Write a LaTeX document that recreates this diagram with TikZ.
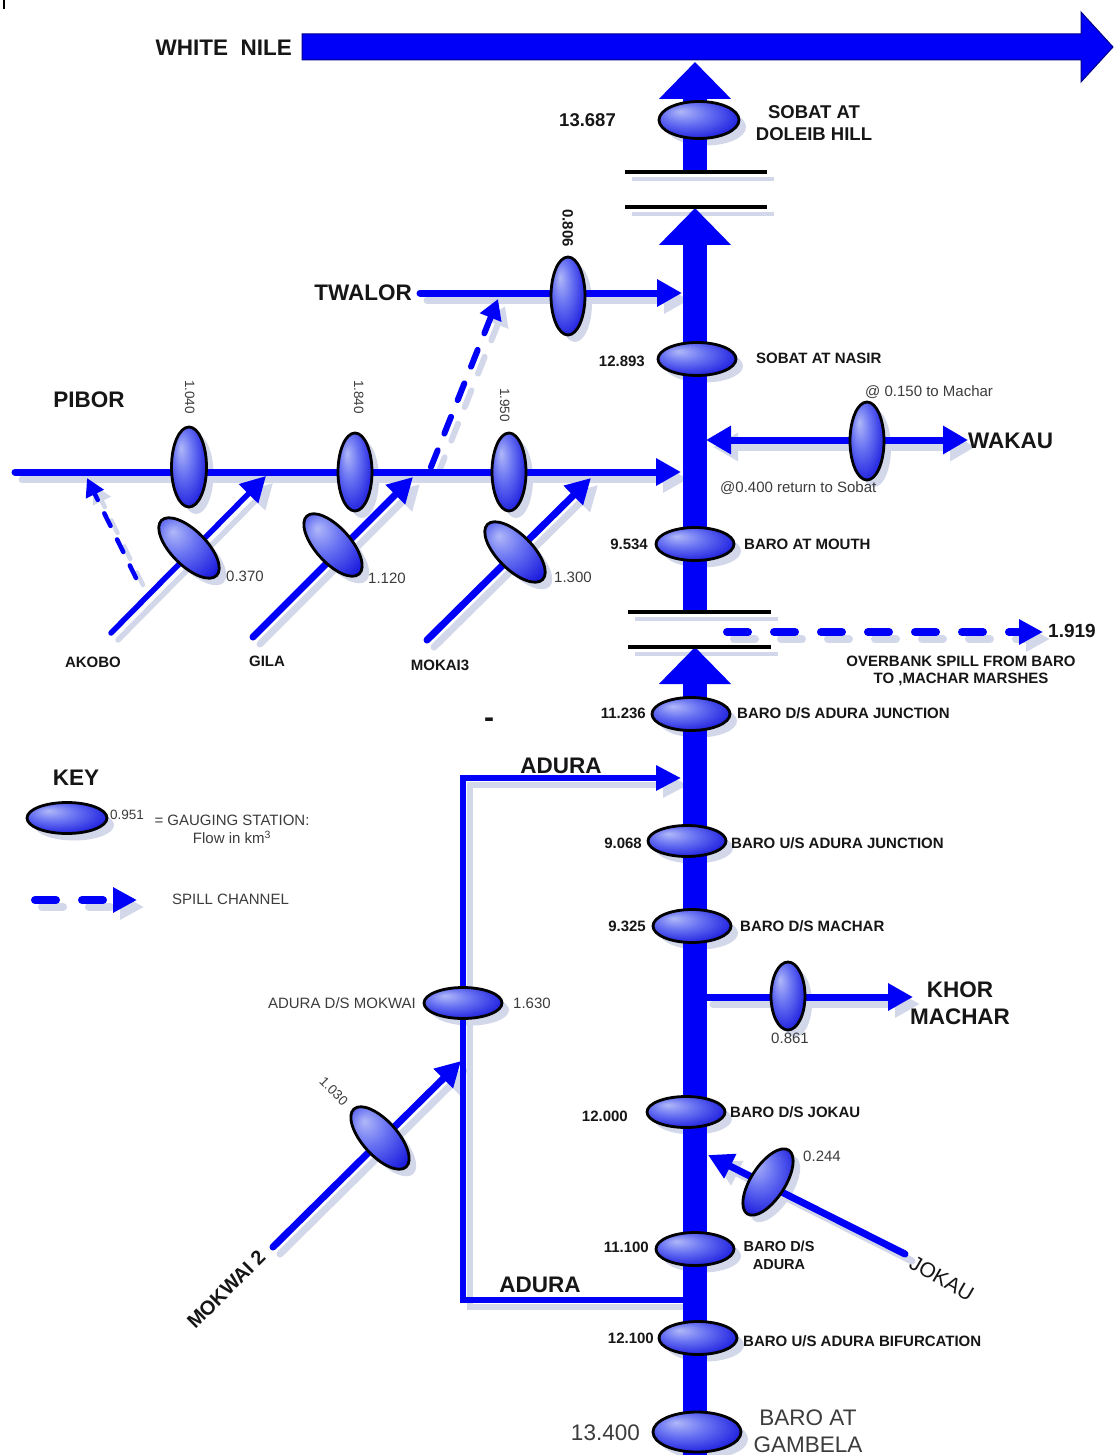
\documentclass[tikz,border=0pt]{standalone}
\usepackage{fontspec}
\setmainfont{Liberation Sans}
\usetikzlibrary{arrows.meta,shapes.geometric,calc}
\definecolor{rb}{RGB}{0,0,248}
\definecolor{shc}{RGB}{210,216,234}
\definecolor{gl}{RGB}{176,184,248}
\definecolor{gm}{RGB}{104,114,242}
\definecolor{gd}{RGB}{28,28,222}
\definecolor{tx}{RGB}{22,22,22}
\definecolor{tg}{RGB}{60,60,60}
\pgfdeclarelayer{bg}
\pgfsetlayers{bg,main}
\pgfdeclareradialshading{gaugeshade}{\pgfpoint{-12bp}{12bp}}{color(0bp)=(gl); color(14bp)=(gm); color(32bp)=(gd); color(50bp)=(gd)}
\newcommand\shline[2]{%
  \begin{pgfonlayer}{bg}\draw[#1,draw=shc,transform canvas={shift={(7pt,-7pt)}}] #2;\end{pgfonlayer}%
  \draw[#1] #2;}
\newcommand\gaugenode[3][]{%
  \begin{pgfonlayer}{bg}\node[gshape,#1,fill=shc] at ($#3+(7,7)$) {};\end{pgfonlayer}%
  \node[gshape,#1,draw=black,shade,shading=gaugeshade] (#2) at #3 {};}
\begin{document}
\begin{tikzpicture}[x=1pt,y=-1pt,
  gshape/.style={ellipse,inner sep=0pt,minimum width=78pt,minimum height=33pt,line width=2.8pt},
  vg/.style={minimum width=34pt,minimum height=78pt},
  riv/.style={draw=rb,line width=7pt,line cap=round,-{Triangle[length=25pt,width=26pt]}},
  rivt/.style={riv,line width=5.5pt},
  rivd/.style={draw=rb,line width=7pt,{Triangle[length=25pt,width=27pt]}-{Triangle[length=25pt,width=27pt]}},
  rivadura/.style={draw=rb,line width=6pt,line join=miter,-{Triangle[length=25pt,width=24pt]}},
  trunk/.style={draw=rb,line width=24pt,-{Triangle[length=37pt,width=70pt]}},
  spill/.style={draw=rb,line width=8pt,line cap=round,dash pattern=on 21pt off 26pt,-{Triangle[length=24pt,width=24pt]}},
  spillb/.style={draw=rb,line width=6pt,line cap=round,dash pattern=on 18pt off 18pt,-{Triangle[length=20pt,width=22pt]}},
  spilla/.style={draw=rb,line width=4.5pt,line cap=round,dash pattern=on 14pt off 15pt,-{Triangle[length=18pt,width=19pt]}},
  blackbar/.style={draw=black,line width=3.5pt},
  lblb/.style={font=\fontsize{15}{17}\selectfont\bfseries,text=tx,inner sep=0pt,text height=10.8pt,text depth=0pt},
  lbls/.style={font=\fontsize{15}{17}\selectfont,text=tg,inner sep=0pt,text height=10.8pt,text depth=0pt},
  lblt/.style={font=\fontsize{13.5}{16}\selectfont,text=tg,inner sep=0pt,text height=9.7pt,text depth=0pt},
  lblbig/.style={font=\fontsize{22.5}{27}\selectfont\bfseries,text=tx,inner sep=0pt,text height=16.2pt,text depth=0pt},
  multi/.style={text height={},text depth={},align=center,anchor=north},
]
\useasboundingbox (0,0) rectangle (1113,1455);
\begin{pgfonlayer}{bg}\fill[white] (0,0) rectangle (1113,1455);\end{pgfonlayer}
\draw[black,line width=1.3pt] (4,0) -- (4,9);

% ---------- coordinates ----------
\coordinate (tB) at (695,1455);
\coordinate (tA1) at (695,647);
\coordinate (tS2) at (695,612);
\coordinate (tA2) at (695,208);
\coordinate (tS3) at (695,172);
\coordinate (tA3) at (695,62);
\coordinate (pS) at (15,472);   \coordinate (pT) at (681,472);
\coordinate (twS) at (420,293); \coordinate (twT) at (682,293);
\coordinate (ptS) at (431,467); \coordinate (ptT) at (498,299);
\coordinate (akdS) at (136,578); \coordinate (akdT) at (87,478);
\coordinate (akS) at (111,633); \coordinate (akT) at (266,476);
\coordinate (giS) at (253,637); \coordinate (giT) at (413,477);
\coordinate (moS) at (427,640); \coordinate (moT) at (591,478);
\coordinate (wL) at (706,440);  \coordinate (wR) at (968,440);
\coordinate (spS) at (727,632); \coordinate (spT) at (1043,632);
\coordinate (kmS) at (706,997); \coordinate (kmT) at (913,997);
\coordinate (adR) at (684,1300); \coordinate (adB) at (463,1300);
\coordinate (adC) at (463,778);  \coordinate (adT) at (681,778);
\coordinate (mwS) at (273,1247); \coordinate (mwT) at (461,1061);
\coordinate (jkS) at (905,1254); \coordinate (jkT) at (708,1155);
\coordinate (kyS) at (35,900);  \coordinate (kyT) at (137,900);

% ---------- White Nile ----------
\node[lblbig,anchor=east] (wnile) at (292,47) {WHITE\ \ NILE};
\fill[rb,draw=rb!55!black,line width=1pt] (302,34) -- (1081,34) -- (1081,12) -- (1113,47) -- (1081,82) -- (1081,60) -- (302,60) -- cycle;

% ---------- rivers ----------
\shline{riv}{(pS) -- (pT)}
\shline{riv}{(twS) -- (twT)}
\shline{spillb}{(ptS) -- (ptT)}
\shline{spilla}{(akdS) -- (akdT)}
\shline{rivt}{(akS) -- (akT)}
\shline{riv}{(giS) -- (giT)}
\shline{riv}{(moS) -- (moT)}
\shline{rivd}{(wL) -- (wR)}
\shline{spill}{(spS) -- (spT)}
\shline{riv}{(kmS) -- (kmT)}
\shline{rivadura}{(adR) -- (adB) -- (adC) -- (adT)}
\shline{riv}{(mwS) -- (mwT)}
\shline{riv}{(jkS) -- (jkT)}
\shline{spill}{(kyS) -- (kyT)}

% ---------- trunk ----------
\draw[trunk] (tB) -- (tA1);
\draw[trunk] (tS2) -- (tA2);
\draw[trunk] (tS3) -- (tA3);
\shline{blackbar}{(625,172) -- (767,172)}
\shline{blackbar}{(625,207) -- (767,207)}
\shline{blackbar}{(628,612) -- (771,612)}
\shline{blackbar}{(628,647) -- (771,647)}

% ---------- gauging stations ----------
\gaugenode[minimum width=80pt,minimum height=37pt]{gDoleib}{(699,120)}
\gaugenode{gNasir}{(697,359)}
\gaugenode{gMouth}{(695,544)}
\gaugenode{gDsAJ}{(691,714)}
\gaugenode[minimum height=31pt]{gUsAJ}{(687,841)}
\gaugenode{gDsM}{(692,926)}
\gaugenode[minimum height=31pt]{gDsJ}{(686,1112)}
\gaugenode{gDsA}{(695,1249)}
\gaugenode{gUsAB}{(698,1338)}
\gaugenode[minimum width=88pt,minimum height=40pt]{gGamb}{(697,1432)}
\gaugenode[vg]{g0806}{(568,296)}
\gaugenode[vg,minimum width=35pt,minimum height=80pt]{g1040}{(189,467)}
\gaugenode[vg]{g1840}{(355,472)}
\gaugenode[vg]{g1950}{(509,472)}
\gaugenode[rotate=-45,minimum height=35pt]{gAkobo}{(189,548)}
\gaugenode[rotate=-48,minimum height=35pt]{gGila}{(333,545)}
\gaugenode[rotate=-45,minimum height=35pt]{gMokai}{(515,552)}
\gaugenode[vg]{gWakau}{(867,441)}
\gaugenode[vg,minimum height=68pt]{gKhor}{(788,996)}
\gaugenode[minimum height=31pt]{gAdMok}{(463,1003)}
\gaugenode[rotate=-48,minimum height=35pt]{gMokwai}{(380,1138)}
\gaugenode[rotate=57,minimum width=76pt,minimum height=34pt]{gJokau}{(768,1182)}
\gaugenode[minimum width=80pt,minimum height=31pt]{gKey}{(67,818)}

% ---------- labels ----------
\node[lblb,font=\fontsize{18.5}{22}\selectfont\bfseries,text height=13.3pt,anchor=east] (l13687) at (616,120) {13.687};
\node[lblb,font=\fontsize{18.5}{22}\selectfont\bfseries,multi] (lDoleib) at (814,105.5) {SOBAT AT\\DOLEIB HILL};
\node[lblb,anchor=east] (l12893) at (645,361) {12.893};
\node[lblb,anchor=west] (lNasir) at (756,358) {SOBAT AT NASIR};
\node[lblb,anchor=east] (l9534) at (648,544) {9.534};
\node[lblb,anchor=west] (lMouth) at (744,544) {BARO AT MOUTH};
\node[lblb,anchor=east] (l11236) at (646,713) {11.236};
\node[lblb,anchor=west] (lDsAJ) at (737,713) {BARO D/S ADURA JUNCTION};
\node[lblb,anchor=east] (l9068) at (642,843) {9.068};
\node[lblb,anchor=west] (lUsAJ) at (731,843) {BARO U/S ADURA JUNCTION};
\node[lblb,anchor=east] (l9325) at (646,926) {9.325};
\node[lblb,anchor=west] (lDsM) at (740,926) {BARO D/S MACHAR};
\node[lblb,anchor=east] (l12000) at (628,1116) {12.000};
\node[lblb,anchor=west] (lDsJ) at (730,1112) {BARO D/S JOKAU};
\node[lblb,anchor=east] (l11100) at (649,1247) {11.100};
\node[lblb,font=\fontsize{14.5}{18}\selectfont\bfseries,multi] (lDsA) at (779,1241) {BARO D/S\\ADURA};
\node[lblb,anchor=east] (l12100) at (654,1338) {12.100};
\node[lblb,anchor=west] (lUsAB) at (743,1341) {BARO U/S ADURA BIFURCATION};
\node[lbls,font=\fontsize{22.5}{27}\selectfont,text height=16.2pt,anchor=east] (l13400) at (640,1432) {13.400};
\node[lbls,font=\fontsize{22.5}{27}\selectfont,multi] (lGamb) at (808,1410) {BARO AT\\GAMBELA};

\node[lblbig,anchor=east] (lTwalor) at (412,292) {TWALOR};
\node[lblb,rotate=-90] (l0806) at (568,228) {0.806};
\node[lblbig] (lPibor) at (89,399) {PIBOR};
\node[lblt,rotate=-90] (l1040) at (190,397) {1.040};
\node[lblt,rotate=-90] (l1840) at (359,397) {1.840};
\node[lblt,rotate=-90] (l1950) at (505,405) {1.950};
\node[lbls,anchor=west] (l0370) at (226,576) {0.370};
\node[lbls,anchor=west] (l1120) at (368,578) {1.120};
\node[lbls,anchor=west] (l1300) at (554,577) {1.300};
\node[lblb] (lAkobo) at (93,662) {AKOBO};
\node[lblb] (lGila) at (267,661) {GILA};
\node[lblb] (lMokai) at (440,665) {MOKAI3};

\node[lblbig,anchor=west] (lWakau) at (968,440) {WAKAU};
\node[lbls,anchor=west] (lw1) at (865,391) {@ 0.150 to Machar};
\node[lbls,anchor=west] (lw2) at (720,487) {@0.400 return to Sobat};

\node[lblb,font=\fontsize{19}{22}\selectfont\bfseries,text height=13.7pt,anchor=west] (l1919) at (1048,631) {1.919};
\node[lblb,multi] (lOver) at (961,655.6) {OVERBANK SPILL FROM BARO\\TO ,MACHAR MARSHES};
\node[lblb,font=\fontsize{30}{30}\selectfont\bfseries,text height={},text depth={},anchor=base] (ldash) at (489,727) {-};

\node[lblbig] (lKey) at (76,777) {KEY};
\node[lblt,anchor=west] (l0951) at (110,815) {0.951};
\node[lbls,font=\fontsize{15}{18}\selectfont,multi] (lGauging) at (232,814.6) {= GAUGING STATION:\\Flow in km\textsuperscript{3}};
\node[lbls,anchor=west] (lSpill) at (172,899) {SPILL CHANNEL};

\node[lblbig] (lAd1) at (561,765) {ADURA};
\node[lblbig] (lAd2) at (540,1284) {ADURA};
\node[lbls,anchor=east] (lAdMok) at (416,1003) {ADURA D/S MOKWAI};
\node[lbls,anchor=west] (l1630) at (513,1003) {1.630};
\node[lblt,rotate=-45] (l1030) at (334,1091) {1.030};
\node[lblb,font=\fontsize{20}{24}\selectfont\bfseries,text height=14.4pt,rotate=45] (lMokwai) at (226,1289) {MOKWAI 2};

\node[lbls] (l0861) at (790,1038) {0.861};
\node[lblbig,multi] (lKhor) at (960,982) {KHOR\\MACHAR};
\node[lbls] (l0244) at (822,1156) {0.244};
\node[lbls,text=tx,font=\fontsize{21}{24}\selectfont,text height=15pt,rotate=-30] (lJokau) at (942,1278) {JOKAU};
\end{tikzpicture}
\end{document}
